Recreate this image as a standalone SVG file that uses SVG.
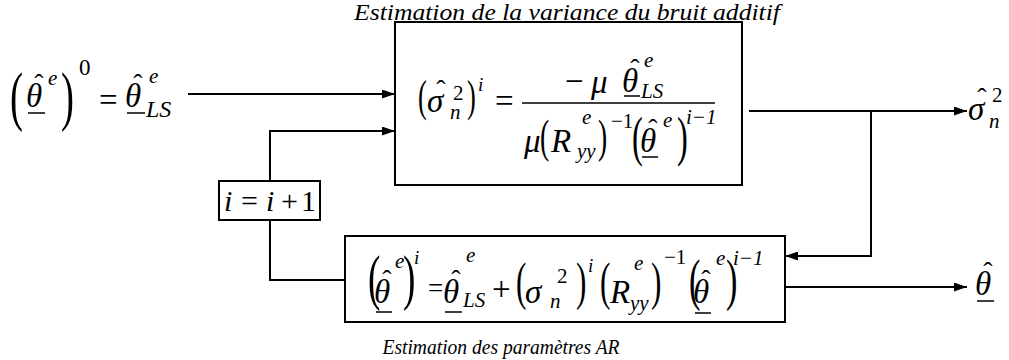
<svg xmlns="http://www.w3.org/2000/svg" width="1009" height="360" viewBox="0 0 1009 360" font-family="'Liberation Serif', 'DejaVu Serif', serif">
<style>
text { font-family: 'Liberation Serif', 'DejaVu Serif', serif; fill: #000; }
.i { font-style: italic; }
.m { font-size: 33px; }
.s { font-size: 21px; }
.h { font-size: 28px; text-anchor: middle; }
.box { fill: none; stroke: #000; stroke-width: 2; }
.ul { stroke: #000; stroke-width: 1.5; }
.wire { fill: none; stroke: #000; stroke-width: 2; }
</style>
<defs>
<marker id="ah" markerWidth="13" markerHeight="9" refX="13" refY="4.5" orient="auto" markerUnits="userSpaceOnUse">
<path d="M0,0 L13,4.5 L0,9 z" fill="#000"/>
</marker>
</defs>
<rect width="1009" height="360" fill="#fff"/>

<text class="i" x="567" y="20" font-size="24" text-anchor="middle" textLength="426" lengthAdjust="spacingAndGlyphs">Estimation de la variance du bruit additif</text>
<text class="i" x="501" y="354" font-size="20" text-anchor="middle" textLength="237" lengthAdjust="spacingAndGlyphs">Estimation des paramètres AR</text>

<g id="init">
<text transform="translate(10,118) scale(0.6,1)" font-size="65">(</text>
<text class="i m" x="26" y="107">θ</text>
<text class="h" x="39" y="93">ˆ</text>
<line class="ul" x1="28" y1="113" x2="45" y2="113"/>
<text class="i s" x="48" y="85">e</text>
<text transform="translate(61,118) scale(0.6,1)" font-size="65">)</text>
<text x="79" y="75" font-size="23">0</text>
<text class="m" x="99" y="111">=</text>
<text class="i m" x="125" y="107">θ</text>
<text class="h" x="138" y="93">ˆ</text>
<line class="ul" x1="127" y1="113" x2="145" y2="113"/>
<text class="i s" x="149" y="83">e</text>
<text class="i" x="146" y="117" font-size="24">LS</text>
</g>

<g id="variance">
<rect class="box" x="395" y="22" width="347" height="163"/>
<text transform="translate(418,111) scale(0.6,1)" font-size="44">(</text>
<text class="i m" x="427" y="112">σ</text>
<text class="h" x="441" y="99">ˆ</text>
<text class="s" x="453" y="100">2</text>
<text class="i s" x="450" y="119">n</text>
<text transform="translate(467,111) scale(0.6,1)" font-size="44">)</text>
<text class="i" x="478" y="91" font-size="19">i</text>
<text class="m" x="495" y="112">=</text>
<line x1="522" y1="103" x2="715" y2="103" stroke="#000" stroke-width="1.5"/>
<text class="m" x="565" y="92">−</text>
<text class="i m" x="591" y="93">μ</text>
<text class="i m" x="622" y="92">θ</text>
<text class="h" x="635" y="78">ˆ</text>
<line class="ul" x1="624" y1="96" x2="640" y2="96"/>
<text class="i s" x="644" y="67">e</text>
<text class="i s" x="641" y="98">LS</text>
<text class="i m" x="524" y="152">μ</text>
<text transform="translate(540,152) scale(0.6,1)" font-size="46">(</text>
<text class="i m" x="551" y="152">R</text>
<text class="i s" x="582" y="124">e</text>
<text class="i s" x="577" y="158">yy</text>
<text transform="translate(598,152) scale(0.6,1)" font-size="46">)</text>
<text class="s" x="611" y="128">−1</text>
<text transform="translate(632,155) scale(0.6,1)" font-size="54">(</text>
<text class="i m" x="640" y="152">θ</text>
<text class="h" x="653" y="138">ˆ</text>
<line class="ul" x1="642" y1="157" x2="658" y2="157"/>
<text class="i s" x="663" y="127">e</text>
<text transform="translate(677,155) scale(0.6,1)" font-size="54">)</text>
<text class="i s" x="686" y="124">i−1</text>
</g>

<g id="incr">
<rect class="box" x="219" y="181" width="101" height="39"/>
<text class="i" x="224" y="211" font-size="30">i</text>
<text x="241" y="211" font-size="30">=</text>
<text class="i" x="266" y="211" font-size="30">i</text>
<text x="281" y="211" font-size="30">+</text>
<text x="301" y="211" font-size="30">1</text>
</g>

<g id="ar">
<rect class="box" x="345" y="236" width="440" height="86"/>
<text transform="translate(368,298) scale(0.6,1)" font-size="62">(</text>
<text class="i m" x="374" y="303">θ</text>
<text class="h" x="387" y="289">ˆ</text>
<line class="ul" x1="376" y1="312" x2="392" y2="312"/>
<text class="i s" x="395" y="268">e</text>
<text transform="translate(403,298) scale(0.6,1)" font-size="62">)</text>
<text class="i" x="414" y="264" font-size="19">i</text>
<text x="428" y="297" font-size="27">=</text>
<text class="i m" x="443" y="303">θ</text>
<text class="h" x="456" y="289">ˆ</text>
<line class="ul" x1="445" y1="312" x2="462" y2="312"/>
<text class="i s" x="466" y="262">e</text>
<text class="i s" x="463" y="307">LS</text>
<text class="m" x="492" y="300">+</text>
<text transform="translate(516,299) scale(0.6,1)" font-size="52">(</text>
<text class="i m" x="525" y="303">σ</text>
<text class="s" x="557" y="283">2</text>
<text class="i s" x="550" y="308">n</text>
<text transform="translate(576,299) scale(0.6,1)" font-size="52">)</text>
<text class="i" x="588" y="272" font-size="19">i</text>
<text transform="translate(600,299) scale(0.6,1)" font-size="52">(</text>
<text class="i m" x="610" y="303">R</text>
<text class="i s" x="634" y="270">e</text>
<text class="i s" x="630" y="310">yy</text>
<text transform="translate(651,299) scale(0.6,1)" font-size="52">)</text>
<text class="s" x="664" y="264">−1</text>
<text transform="translate(689,299) scale(0.6,1)" font-size="57">(</text>
<text class="i m" x="693" y="303">θ</text>
<text class="h" x="706" y="289">ˆ</text>
<line class="ul" x1="695" y1="313" x2="711" y2="313"/>
<text class="i s" x="716" y="265">e</text>
<text transform="translate(726,299) scale(0.6,1)" font-size="57">)</text>
<text class="i s" x="733" y="265">i−1</text>
</g>

<g id="out-sigma">
<text class="i m" x="968" y="120">σ</text>
<text class="h" x="982" y="107">ˆ</text>
<text class="s" x="992" y="102">2</text>
<text class="i s" x="989" y="128">n</text>
</g>

<g id="out-theta">
<text class="i m" x="975" y="295">θ</text>
<text class="h" x="988" y="281">ˆ</text>
<line class="ul" x1="977" y1="301" x2="994" y2="301"/>
</g>

<g id="connectors">
<path class="wire" d="M188,94 H395" marker-end="url(#ah)"/>
<path class="wire" d="M270,181 V131 H395" marker-end="url(#ah)"/>
<path class="wire" d="M270,220 V280 H345"/>
<path class="wire" d="M749,111 H967" marker-end="url(#ah)"/>
<path class="wire" d="M871,111 V256 H785" marker-end="url(#ah)"/>
<path class="wire" d="M785,287 H967" marker-end="url(#ah)"/>
</g>
</svg>
